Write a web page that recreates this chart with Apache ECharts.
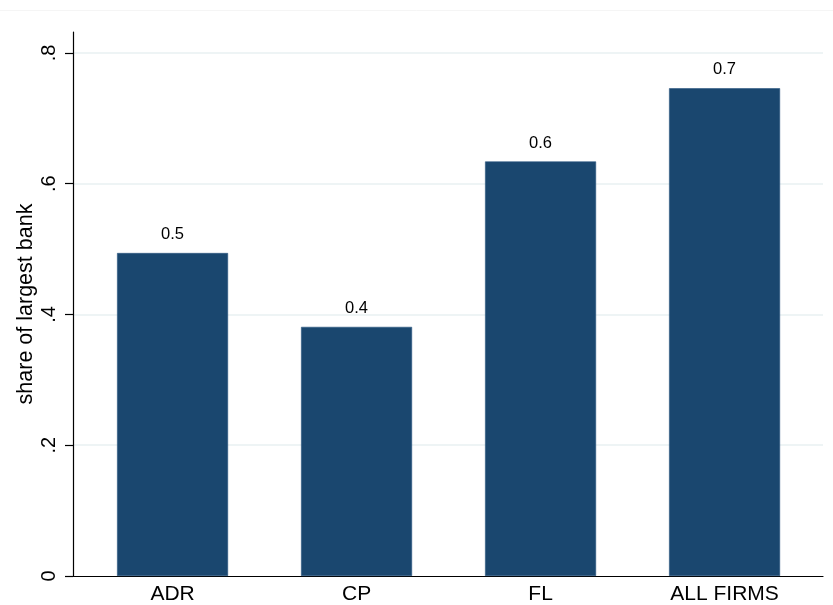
<!DOCTYPE html>
<html>
<head>
<meta charset="utf-8">
<script src="https://cdn.jsdelivr.net/npm/echarts@6/dist/echarts.min.js"></script>
<style>html,body{margin:0;padding:0;background:#fff}#c{width:833px;height:605px}</style>
</head>
<body>
<div id="c"></div>
<script>
var categories = ['ADR', 'CP', 'FL', 'ALL FIRMS'];
var shareValues = [0.494, 0.381, 0.634, 0.746];
var yTicks = [0, 0.2, 0.4, 0.6, 0.8];
var yTickLabels = ['0', '.2', '.4', '.6', '.8'];
var yAxisTitle = 'share of largest bank';

var FONT = 'Liberation Sans, Arial, Helvetica, sans-serif';
var chart = echarts.init(document.getElementById('c'), null, {renderer: 'canvas'});
var catIdx = categories.map(function (c, i) { return i; });

var option = {
  backgroundColor: '#ffffff',
  animation: false,
  grid: {left: 73, right: 10, top: 32, bottom: 29, containLabel: false},
  xAxis: {
    type: 'value',
    min: -0.541,
    max: 3.535,
    axisLine: {show: true, onZero: false, lineStyle: {color: '#000', width: 1.2}},
    axisTick: {show: false},
    splitLine: {show: false},
    axisLabel: {
      customValues: catIdx,
      formatter: function (v) { return categories[Math.round(v)] || ''; },
      color: '#000', fontSize: 21, fontFamily: FONT, margin: 8
    }
  },
  yAxis: {
    type: 'value',
    min: 0,
    max: 0.832,
    name: yAxisTitle,
    nameLocation: 'middle',
    nameGap: 36,
    nameMoveOverlap: false,
    nameRotate: 90,
    nameTextStyle: {color: '#000', fontSize: 21.5, fontFamily: FONT},
    axisLine: {show: true, onZero: false, lineStyle: {color: '#000', width: 1.2}},
    axisTick: {show: true, length: 8, customValues: yTicks, lineStyle: {color: '#000', width: 1.2}},
    splitLine: {show: false},
    axisLabel: {
      customValues: yTicks,
      rotate: 90,
      margin: 14,
      formatter: function (v) {
        var i = yTicks.findIndex(function (t) { return Math.abs(t - v) < 1e-9; });
        return i >= 0 ? yTickLabels[i] : '';
      },
      color: '#000', fontSize: 20, fontFamily: FONT
    }
  },
  series: [{
    type: 'bar',
    barWidth: 111,
    data: shareValues.map(function (v, i) { return [catIdx[i], v]; }),
    itemStyle: {color: '#1a476f', borderColor: '#2a5580', borderWidth: 0.6},
    label: {
      show: true,
      position: 'top',
      distance: 10,
      formatter: function (p) { return p.value[1].toFixed(1); },
      color: '#000', fontSize: 16.5, fontFamily: FONT
    },
    markLine: {
      silent: true,
      symbol: 'none',
      label: {show: false},
      z: 0,
      lineStyle: {color: '#e8f0f2', type: 'solid', width: 1.5},
      data: yTicks.slice(1).map(function (t) { return {yAxis: t}; })
    }
  }],
  graphic: [{
    type: 'line',
    shape: {x1: 0, y1: 10.5, x2: 833, y2: 10.5},
    style: {stroke: '#f5f5f5', lineWidth: 1},
    silent: true
  }]
};
chart.setOption(option);
</script>
</body>
</html>
